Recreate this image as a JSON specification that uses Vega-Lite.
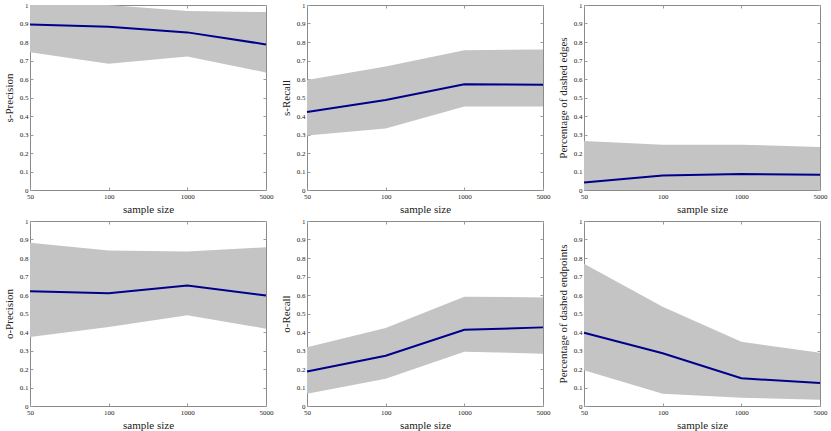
{
  "$schema": "https://vega.github.io/schema/vega-lite/v6.json",
  "background": "white",
  "padding": {"left": 2, "top": 0, "right": 0, "bottom": 0},
  "spacing": {"row": 1, "column": 5},
  "columns": 3,
  "config": {
    "font": "Liberation Serif",
    "view": {"stroke": "#8a8a8a", "strokeWidth": 1},
    "axis": {
      "grid": false,
      "domain": false,
      "ticks": true,
      "tickColor": "#9a9a9a",
      "tickSize": -3,
      "minExtent": 0,
      "labelFont": "Liberation Serif",
      "labelFontSize": 7,
      "labelColor": "#222",
      "labelPadding": 5,
      "titleFont": "Liberation Serif",
      "titleFontSize": 11,
      "titleFontWeight": "normal",
      "titleColor": "#222"
    }
  },
  "datasets": {
    "d": [
      {"panel": "s-Precision", "size": "50", "mean": 0.895, "lo": 0.745, "hi": 1.0},
      {"panel": "s-Precision", "size": "100", "mean": 0.882, "lo": 0.682, "hi": 1.0},
      {"panel": "s-Precision", "size": "1000", "mean": 0.852, "lo": 0.722, "hi": 0.967},
      {"panel": "s-Precision", "size": "5000", "mean": 0.787, "lo": 0.635, "hi": 0.962},
      {"panel": "s-Recall", "size": "50", "mean": 0.422, "lo": 0.295, "hi": 0.595},
      {"panel": "s-Recall", "size": "100", "mean": 0.487, "lo": 0.333, "hi": 0.668},
      {"panel": "s-Recall", "size": "1000", "mean": 0.571, "lo": 0.452, "hi": 0.755},
      {"panel": "s-Recall", "size": "5000", "mean": 0.569, "lo": 0.452, "hi": 0.760},
      {"panel": "Percentage of dashed edges", "size": "50", "mean": 0.040, "lo": 0.0, "hi": 0.265},
      {"panel": "Percentage of dashed edges", "size": "100", "mean": 0.078, "lo": 0.0, "hi": 0.245},
      {"panel": "Percentage of dashed edges", "size": "1000", "mean": 0.087, "lo": 0.0, "hi": 0.245},
      {"panel": "Percentage of dashed edges", "size": "5000", "mean": 0.082, "lo": 0.0, "hi": 0.232},
      {"panel": "o-Precision", "size": "50", "mean": 0.620, "lo": 0.373, "hi": 0.882},
      {"panel": "o-Precision", "size": "100", "mean": 0.609, "lo": 0.427, "hi": 0.841},
      {"panel": "o-Precision", "size": "1000", "mean": 0.651, "lo": 0.491, "hi": 0.835},
      {"panel": "o-Precision", "size": "5000", "mean": 0.597, "lo": 0.418, "hi": 0.858},
      {"panel": "o-Recall", "size": "50", "mean": 0.186, "lo": 0.066, "hi": 0.318},
      {"panel": "o-Recall", "size": "100", "mean": 0.272, "lo": 0.147, "hi": 0.422},
      {"panel": "o-Recall", "size": "1000", "mean": 0.412, "lo": 0.293, "hi": 0.591},
      {"panel": "o-Recall", "size": "5000", "mean": 0.425, "lo": 0.283, "hi": 0.587},
      {"panel": "Percentage of dashed endpoints", "size": "50", "mean": 0.396, "lo": 0.193, "hi": 0.769},
      {"panel": "Percentage of dashed endpoints", "size": "100", "mean": 0.285, "lo": 0.066, "hi": 0.536},
      {"panel": "Percentage of dashed endpoints", "size": "1000", "mean": 0.150, "lo": 0.045, "hi": 0.347},
      {"panel": "Percentage of dashed endpoints", "size": "5000", "mean": 0.124, "lo": 0.034, "hi": 0.288}
    ]
  },
  "data": {"name": "d"},
  "concat": [
    {
      "transform": [{"filter": "datum.panel === 's-Precision'"}],
      "width": 236, "height": 185,
      "layer": [
        {"mark": {"type": "area", "color": "#c4c4c4", "opacity": 1},
         "encoding": {
           "x": {"field": "size", "type": "ordinal", "sort": ["50", "100", "1000", "5000"], "scale": {"type": "point", "padding": 0}, "axis": {"title": "sample size", "labelAngle": 0, "titlePadding": 4}},
           "y": {"field": "hi", "type": "quantitative", "scale": {"domain": [0, 1], "nice": false}, "axis": {"title": "s-Precision", "values": [0,0.1,0.2,0.3,0.4,0.5,0.6,0.7,0.8,0.9,1], "format": ".1~f", "titlePadding": 5}},
           "y2": {"field": "lo"}}},
        {"mark": {"type": "line", "color": "#00008b", "strokeWidth": 2},
         "encoding": {
           "x": {"field": "size", "type": "ordinal", "sort": ["50", "100", "1000", "5000"], "axis": {"orient": "top", "labels": false, "title": null}},
           "y": {"field": "mean", "type": "quantitative", "axis": {"orient": "right", "labels": false, "title": null, "values": [0,0.1,0.2,0.3,0.4,0.5,0.6,0.7,0.8,0.9,1]}}}}
      ],
      "resolve": {"axis": {"x": "independent", "y": "independent"}}
    },
    {
      "transform": [{"filter": "datum.panel === 's-Recall'"}],
      "width": 236, "height": 185,
      "layer": [
        {"mark": {"type": "area", "color": "#c4c4c4", "opacity": 1},
         "encoding": {
           "x": {"field": "size", "type": "ordinal", "sort": ["50", "100", "1000", "5000"], "scale": {"type": "point", "padding": 0}, "axis": {"title": "sample size", "labelAngle": 0, "titlePadding": 4}},
           "y": {"field": "hi", "type": "quantitative", "scale": {"domain": [0, 1], "nice": false}, "axis": {"title": "s-Recall", "values": [0,0.1,0.2,0.3,0.4,0.5,0.6,0.7,0.8,0.9,1], "format": ".1~f", "titlePadding": 5}},
           "y2": {"field": "lo"}}},
        {"mark": {"type": "line", "color": "#00008b", "strokeWidth": 2},
         "encoding": {
           "x": {"field": "size", "type": "ordinal", "sort": ["50", "100", "1000", "5000"], "axis": {"orient": "top", "labels": false, "title": null}},
           "y": {"field": "mean", "type": "quantitative", "axis": {"orient": "right", "labels": false, "title": null, "values": [0,0.1,0.2,0.3,0.4,0.5,0.6,0.7,0.8,0.9,1]}}}}
      ],
      "resolve": {"axis": {"x": "independent", "y": "independent"}}
    },
    {
      "transform": [{"filter": "datum.panel === 'Percentage of dashed edges'"}],
      "width": 236, "height": 185,
      "layer": [
        {"mark": {"type": "area", "color": "#c4c4c4", "opacity": 1},
         "encoding": {
           "x": {"field": "size", "type": "ordinal", "sort": ["50", "100", "1000", "5000"], "scale": {"type": "point", "padding": 0}, "axis": {"title": "sample size", "labelAngle": 0, "titlePadding": 4}},
           "y": {"field": "hi", "type": "quantitative", "scale": {"domain": [0, 1], "nice": false}, "axis": {"title": "Percentage of dashed edges", "values": [0,0.1,0.2,0.3,0.4,0.5,0.6,0.7,0.8,0.9,1], "format": ".1~f", "titlePadding": 5}},
           "y2": {"field": "lo"}}},
        {"mark": {"type": "line", "color": "#00008b", "strokeWidth": 2},
         "encoding": {
           "x": {"field": "size", "type": "ordinal", "sort": ["50", "100", "1000", "5000"], "axis": {"orient": "top", "labels": false, "title": null}},
           "y": {"field": "mean", "type": "quantitative", "axis": {"orient": "right", "labels": false, "title": null, "values": [0,0.1,0.2,0.3,0.4,0.5,0.6,0.7,0.8,0.9,1]}}}}
      ],
      "resolve": {"axis": {"x": "independent", "y": "independent"}}
    },
    {
      "transform": [{"filter": "datum.panel === 'o-Precision'"}],
      "width": 236, "height": 185,
      "layer": [
        {"mark": {"type": "area", "color": "#c4c4c4", "opacity": 1},
         "encoding": {
           "x": {"field": "size", "type": "ordinal", "sort": ["50", "100", "1000", "5000"], "scale": {"type": "point", "padding": 0}, "axis": {"title": "sample size", "labelAngle": 0, "titlePadding": 4}},
           "y": {"field": "hi", "type": "quantitative", "scale": {"domain": [0, 1], "nice": false}, "axis": {"title": "o-Precision", "values": [0,0.1,0.2,0.3,0.4,0.5,0.6,0.7,0.8,0.9,1], "format": ".1~f", "titlePadding": 5}},
           "y2": {"field": "lo"}}},
        {"mark": {"type": "line", "color": "#00008b", "strokeWidth": 2},
         "encoding": {
           "x": {"field": "size", "type": "ordinal", "sort": ["50", "100", "1000", "5000"], "axis": {"orient": "top", "labels": false, "title": null}},
           "y": {"field": "mean", "type": "quantitative", "axis": {"orient": "right", "labels": false, "title": null, "values": [0,0.1,0.2,0.3,0.4,0.5,0.6,0.7,0.8,0.9,1]}}}}
      ],
      "resolve": {"axis": {"x": "independent", "y": "independent"}}
    },
    {
      "transform": [{"filter": "datum.panel === 'o-Recall'"}],
      "width": 236, "height": 185,
      "layer": [
        {"mark": {"type": "area", "color": "#c4c4c4", "opacity": 1},
         "encoding": {
           "x": {"field": "size", "type": "ordinal", "sort": ["50", "100", "1000", "5000"], "scale": {"type": "point", "padding": 0}, "axis": {"title": "sample size", "labelAngle": 0, "titlePadding": 4}},
           "y": {"field": "hi", "type": "quantitative", "scale": {"domain": [0, 1], "nice": false}, "axis": {"title": "o-Recall", "values": [0,0.1,0.2,0.3,0.4,0.5,0.6,0.7,0.8,0.9,1], "format": ".1~f", "titlePadding": 5}},
           "y2": {"field": "lo"}}},
        {"mark": {"type": "line", "color": "#00008b", "strokeWidth": 2},
         "encoding": {
           "x": {"field": "size", "type": "ordinal", "sort": ["50", "100", "1000", "5000"], "axis": {"orient": "top", "labels": false, "title": null}},
           "y": {"field": "mean", "type": "quantitative", "axis": {"orient": "right", "labels": false, "title": null, "values": [0,0.1,0.2,0.3,0.4,0.5,0.6,0.7,0.8,0.9,1]}}}}
      ],
      "resolve": {"axis": {"x": "independent", "y": "independent"}}
    },
    {
      "transform": [{"filter": "datum.panel === 'Percentage of dashed endpoints'"}],
      "width": 236, "height": 185,
      "layer": [
        {"mark": {"type": "area", "color": "#c4c4c4", "opacity": 1},
         "encoding": {
           "x": {"field": "size", "type": "ordinal", "sort": ["50", "100", "1000", "5000"], "scale": {"type": "point", "padding": 0}, "axis": {"title": "sample size", "labelAngle": 0, "titlePadding": 4}},
           "y": {"field": "hi", "type": "quantitative", "scale": {"domain": [0, 1], "nice": false}, "axis": {"title": "Percentage of dashed endpoints", "values": [0,0.1,0.2,0.3,0.4,0.5,0.6,0.7,0.8,0.9,1], "format": ".1~f", "titlePadding": 5}},
           "y2": {"field": "lo"}}},
        {"mark": {"type": "line", "color": "#00008b", "strokeWidth": 2},
         "encoding": {
           "x": {"field": "size", "type": "ordinal", "sort": ["50", "100", "1000", "5000"], "axis": {"orient": "top", "labels": false, "title": null}},
           "y": {"field": "mean", "type": "quantitative", "axis": {"orient": "right", "labels": false, "title": null, "values": [0,0.1,0.2,0.3,0.4,0.5,0.6,0.7,0.8,0.9,1]}}}}
      ],
      "resolve": {"axis": {"x": "independent", "y": "independent"}}
    }
  ]
}
